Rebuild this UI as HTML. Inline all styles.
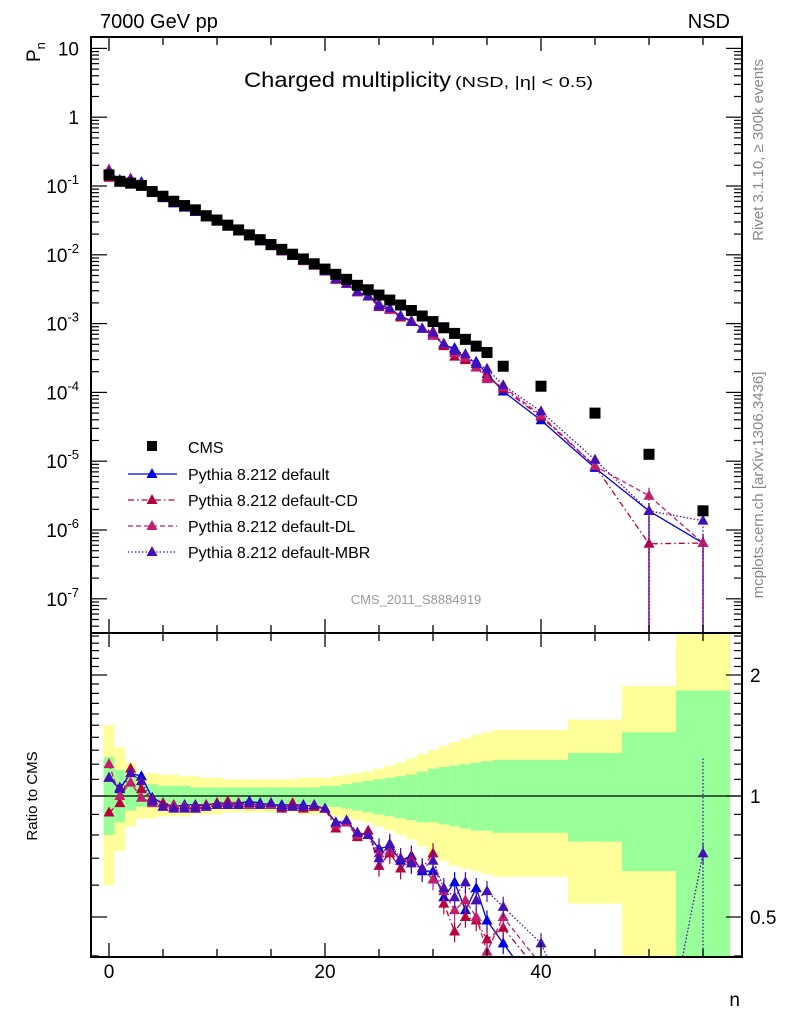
<!DOCTYPE html>
<html><head><meta charset="utf-8"><style>
html,body{margin:0;padding:0;background:#fff;overflow:hidden;width:786px;height:1024px;}
svg{display:block;font-family:"Liberation Sans",sans-serif;}
</style></head><body>
<svg id="c" width="786" height="1024" viewBox="0 0 786 1024" xmlns="http://www.w3.org/2000/svg">
<text x="100" y="28" font-size="20">7000 GeV pp</text>
<text x="730" y="28" font-size="20" text-anchor="end">NSD</text>
<text x="244" y="87" font-size="21" textLength="207" lengthAdjust="spacingAndGlyphs">Charged multiplicity</text>
<text x="455" y="87" font-size="15" textLength="138" lengthAdjust="spacingAndGlyphs">(NSD, |η| &lt; 0.5)</text>
<text transform="translate(40,62) rotate(-90)" font-size="19">P<tspan font-size="13" dy="5">n</tspan></text>
<text transform="translate(37,796) rotate(-90)" font-size="15" text-anchor="middle">Ratio to CMS</text>
<text x="740" y="1006" font-size="19" text-anchor="end">n</text>
<text transform="translate(763,150) rotate(-90)" font-size="15" fill="#888" text-anchor="middle">Rivet 3.1.10, ≥ 300k events</text>
<text transform="translate(763,485) rotate(-90)" font-size="15" fill="#888" text-anchor="middle">mcplots.cern.ch [arXiv:1306.3436]</text>
<text x="416" y="604" font-size="13" fill="#999" text-anchor="middle">CMS_2011_S8884919</text>
<g id="g"></g>
</svg>
<script>
const nVals=[0,1,2,3,4,5,6,7,8,9,10,11,12,13,14,15,16,17,18,19,20,21,22,23,24,25,26,27,28,29,30,31,32,33,34,35,36.5,40,45,50,55];
const binLo=[-0.5,0.5,1.5,2.5,3.5,4.5,5.5,6.5,7.5,8.5,9.5,10.5,11.5,12.5,13.5,14.5,15.5,16.5,17.5,18.5,19.5,20.5,21.5,22.5,23.5,24.5,25.5,26.5,27.5,28.5,29.5,30.5,31.5,32.5,33.5,34.5,35.5,37.5,42.5,47.5,52.5];
const binHi=[0.5,1.5,2.5,3.5,4.5,5.5,6.5,7.5,8.5,9.5,10.5,11.5,12.5,13.5,14.5,15.5,16.5,17.5,18.5,19.5,20.5,21.5,22.5,23.5,24.5,25.5,26.5,27.5,28.5,29.5,30.5,31.5,32.5,33.5,34.5,35.5,37.5,42.5,47.5,52.5,57.5];
const cms=[0.145,0.117,0.110,0.102,0.083,0.071,0.060,0.052,0.045,0.037,0.032,0.027,0.023,0.0195,0.0166,0.0141,0.0120,0.0102,0.0087,0.0074,0.0062,0.0052,0.0044,0.0036,0.0031,0.0026,0.0022,0.00186,0.00155,0.00129,0.00107,0.00087,0.00072,0.00059,0.00047,0.00038,0.00024,0.000123,0.000050,0.0000126,0.0000019];
const rDefault=[1.11,1.04,1.14,1.12,0.99,0.96,0.94,0.95,0.95,0.95,0.96,0.96,0.96,0.97,0.96,0.95,0.95,0.95,0.95,0.94,0.93,0.86,0.86,0.81,0.80,0.74,0.75,0.69,0.71,0.65,0.65,0.56,0.61,0.52,0.59,0.49,0.43,0.32,0.16,0.15,0.34];
const rCD=[0.91,0.96,1.17,1.04,0.98,0.96,0.95,0.94,0.94,0.95,0.96,0.97,0.96,0.96,0.95,0.96,0.93,0.96,0.93,0.94,0.93,0.83,0.86,0.79,0.82,0.67,0.72,0.66,0.70,0.66,0.72,0.54,0.46,0.50,0.49,0.44,0.47,0.36,0.17,0.05,0.34];
const rDL=[1.20,1.00,1.08,0.99,0.96,0.94,0.94,0.94,0.93,0.94,0.95,0.95,0.95,0.95,0.95,0.95,0.94,0.94,0.94,0.95,0.93,0.85,0.86,0.80,0.80,0.72,0.73,0.70,0.69,0.66,0.62,0.58,0.52,0.55,0.50,0.41,0.50,0.38,0.17,0.25,0.34];
const rMBR=[1.11,1.05,1.14,1.09,0.97,0.94,0.93,0.93,0.93,0.94,0.95,0.95,0.95,0.96,0.95,0.96,0.94,0.94,0.94,0.95,0.93,0.86,0.87,0.81,0.80,0.70,0.76,0.70,0.68,0.66,0.69,0.59,0.56,0.61,0.55,0.58,0.53,0.43,0.21,0.15,0.72];
const yellowHi=[1.50,1.32,1.21,1.14,1.14,1.13,1.13,1.12,1.12,1.11,1.11,1.10,1.10,1.10,1.10,1.10,1.10,1.10,1.11,1.11,1.11,1.12,1.13,1.14,1.15,1.17,1.19,1.21,1.24,1.27,1.30,1.33,1.36,1.39,1.42,1.44,1.46,1.46,1.55,1.88,3.0];
const greenHi=[1.25,1.16,1.11,1.07,1.07,1.06,1.06,1.06,1.05,1.05,1.05,1.05,1.05,1.05,1.05,1.05,1.05,1.05,1.05,1.05,1.06,1.06,1.07,1.08,1.09,1.10,1.11,1.12,1.13,1.15,1.17,1.18,1.19,1.20,1.21,1.22,1.23,1.23,1.28,1.44,1.83];
const yellowLo=[0.60,0.73,0.84,0.88,0.88,0.89,0.89,0.89,0.90,0.90,0.90,0.91,0.91,0.91,0.91,0.91,0.91,0.91,0.90,0.90,0.90,0.89,0.88,0.87,0.86,0.84,0.82,0.80,0.78,0.75,0.71,0.69,0.67,0.66,0.65,0.64,0.63,0.63,0.54,0.3,0.3];
const greenLo=[0.80,0.86,0.92,0.94,0.94,0.94,0.94,0.95,0.95,0.95,0.95,0.95,0.95,0.95,0.95,0.95,0.95,0.95,0.95,0.95,0.94,0.94,0.93,0.92,0.91,0.90,0.89,0.88,0.87,0.86,0.86,0.85,0.84,0.83,0.82,0.82,0.81,0.81,0.77,0.65,0.3];
const yTickDecades=[1,0,-1,-2,-3,-4,-5,-6,-7];
const yTickLabels=["10","1","10^-1","10^-2","10^-3","10^-4","10^-5","10^-6","10^-7"];
const xTickLabels=[0,20,40];
const ratioTicks=[2,1,0.5];

const NS="http://www.w3.org/2000/svg";
const G=document.getElementById('g');
const L=91,R=742,T=37,MB=633,RB=957;
const X=n=>109+(n-0)*10.8;
const Y=v=>48.4-(Math.log10(v)-1)*68.8;
const YR=r=>796-Math.log2(r)*121;
function el(t,a,p){const e=document.createElementNS(NS,t);for(const k in a)e.setAttribute(k,a[k]);(p||G).appendChild(e);return e;}

const defs=el('defs',{});
const c1=el('clipPath',{id:'cm'},defs);el('rect',{x:L,y:T,width:R-L,height:MB-T},c1);
const c2=el('clipPath',{id:'cr'},defs);el('rect',{x:L,y:MB,width:R-L,height:RB-MB},c2);
const gm=el('g',{'clip-path':'url(#cm)'});


const gr=el('g',{'clip-path':'url(#cr)'});



for(let i=0;i<nVals.length;i++){
  const x0=X(binLo[i]),x1=Math.min(X(binHi[i]),730);
  const yb=el('rect',{x:x0,y:YR(yellowHi[i]),width:x1-x0,height:YR(yellowLo[i])-YR(yellowHi[i]),fill:'#ffff99'},gr);
  
  
  const gb=el('rect',{x:x0,y:YR(greenHi[i]),width:x1-x0,height:YR(greenLo[i])-YR(greenHi[i]),fill:'#99ff99'},gr);
  
  
}
el('line',{x1:L,x2:R,y1:YR(1),y2:YR(1),stroke:'#000','stroke-width':1.3},gr);

const series=[
 {name:'default',r:rDefault,col:'#0000e6',dash:''},
 {name:'default-cd',r:rCD,col:'#b8003c',dash:'6,3,1.5,3'},
 {name:'default-dl',r:rDL,col:'#c21e6c',dash:'5,3'},
 {name:'default-mbr',r:rMBR,col:'#4410b8',dash:'1.5,2'}
];
function tri(x,y,col,g,nm){
  const t=el('polygon',{points:`${x},${y-6} ${x-5.5},${y+4} ${x+5.5},${y+4}`,fill:col},g);
  
  
}
series.forEach(s=>{
  const ptsM=[],ptsR=[];
  for(let i=0;i<nVals.length;i++){ptsM.push(X(nVals[i])+','+Y(cms[i]*s.r[i]));ptsR.push(X(nVals[i])+','+YR(s.r[i]));}
  const lm=el('polyline',{points:ptsM.join(' '),fill:'none',stroke:s.col,'stroke-width':1.3,'stroke-dasharray':s.dash},gm);
  
  
  const lr=el('polyline',{points:ptsR.join(' '),fill:'none',stroke:s.col,'stroke-width':1.3,'stroke-dasharray':s.dash},gr);
  
  
  for(let i=0;i<nVals.length;i++){
    if(nVals[i]>=50){el('line',{x1:X(nVals[i]),x2:X(nVals[i]),y1:Y(cms[i]*s.r[i])-8,y2:MB,stroke:s.col,'stroke-width':1.3,'stroke-dasharray':s.dash},gm);}
    if(nVals[i]>=25){el('line',{x1:X(nVals[i]),x2:X(nVals[i]),y1:YR(s.r[i]*1.06),y2:YR(s.r[i]*0.94),stroke:s.col,'stroke-width':1.2},gr);}
    tri(X(nVals[i]),Y(cms[i]*s.r[i]),s.col,gm,'point-'+s.name);
    tri(X(nVals[i]),YR(s.r[i]),s.col,gr,'ratio-point-'+s.name);
  }
});
el('line',{x1:X(55),x2:X(55),y1:YR(1.24),y2:RB,stroke:'#4410b8','stroke-width':1.3,'stroke-dasharray':'1.5,2'},gr);
for(let i=0;i<nVals.length;i++){
  const sq=el('rect',{x:X(nVals[i])-5.5,y:Y(cms[i])-5.5,width:11,height:11,fill:'#000'},gm);
  
  
}

el('rect',{x:L,y:T,width:R-L,height:MB-T,fill:'none',stroke:'#000','stroke-width':2});
el('rect',{x:L,y:MB,width:R-L,height:RB-MB,fill:'none',stroke:'#000','stroke-width':2});

for(let n=0;n<=55;n+=5){
  const big=n%20===0,x=X(n);
  [[T,1],[MB,1],[MB,-1],[RB,-1]].forEach(([y,d])=>{el('line',{x1:x,x2:x,y1:y,y2:y+d*(big?14:8),stroke:'#000','stroke-width':1.3});});
}
xTickLabels.forEach(v=>{const t=el('text',{x:X(v),y:978,'font-size':19,'text-anchor':'middle'});t.textContent=v;
 
 });

for(let d=1;d>=-8;d--){
  for(let k=1;k<=9;k++){
    const v=k*Math.pow(10,d),y=Y(v);if(y<T||y>MB)continue;
    const w=k===1?16:8;
    el('line',{x1:L,x2:L+w,y1:y,y2:y,stroke:'#000','stroke-width':1.2});
    el('line',{x1:R,x2:R-w,y1:y,y2:y,stroke:'#000','stroke-width':1.2});
  }
}
yTickDecades.forEach((d,i)=>{
  const y=Y(Math.pow(10,d))+7;
  const t=el('text',{x:79,y:y,'font-size':19,'text-anchor':'end'});
  
  
  const lab=yTickLabels[i];
  if(lab.indexOf('^')<0){t.textContent=lab;}
  else{const p=lab.split('^');t.textContent=p[0];const s=el('tspan',{'font-size':13,dy:-9},t);s.textContent=p[1];}
});
[0.4,0.5,0.6,0.7,0.8,0.9,1,1.1,1.2,1.3,1.4,1.5,1.6,1.7,1.8,1.9,2,2.1,2.2,2.3,2.4,2.5].forEach(r=>{
  const y=YR(r);if(y<MB||y>RB)return;const big=(r===0.5||r===1||r===2);const w=big?16:8;
  el('line',{x1:L,x2:L+w,y1:y,y2:y,stroke:'#000','stroke-width':1.2});
  el('line',{x1:R,x2:R-w,y1:y,y2:y,stroke:'#000','stroke-width':1.2});
});
ratioTicks.forEach(r=>{const t=el('text',{x:750,y:YR(r)+7,'font-size':19});t.textContent=r;
 
 });

const legNames=['Pythia 8.212 default','Pythia 8.212 default-CD','Pythia 8.212 default-DL','Pythia 8.212 default-MBR'];
const lg=el('g',{});


el('rect',{x:147,y:441,width:10,height:10,fill:'#000'},lg);
const t0=el('text',{x:188,y:453,'font-size':16},lg);t0.textContent='CMS';
series.forEach((s,i)=>{
  const y=474+i*26;
  el('line',{x1:128,x2:177,y1:y,y2:y,stroke:s.col,'stroke-width':1.3,'stroke-dasharray':s.dash},lg);
  tri(152,y,s.col,lg,'legend-marker');
  const t=el('text',{x:188,y:y+6,'font-size':16},lg);t.textContent=legNames[i];
  
  
});
</script>
</body></html>
